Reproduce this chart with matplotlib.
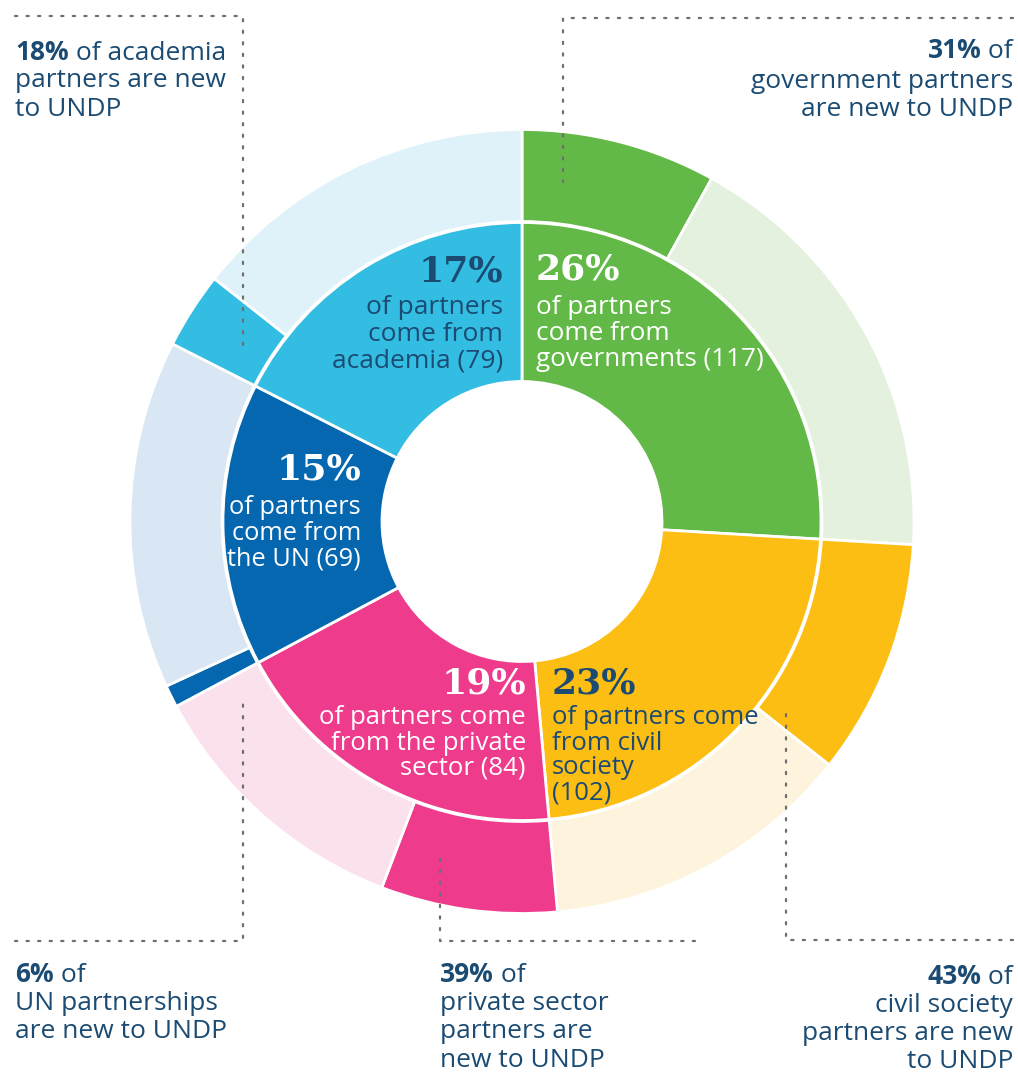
import matplotlib
matplotlib.use('Agg')
import matplotlib.pyplot as plt

W, H = 1018, 1073

# ---- data ----
categories = ['governments', 'civil society', 'private sector', 'the UN', 'academia']
partners = [117, 102, 84, 69, 79]
share_pct = [26, 23, 19, 15, 17]
new_pct = [31, 43, 39, 6, 18]

strong_colors = ['#63B947', '#FDBE14', '#EE3B8C', '#0467AF', '#33BDE2']
light_colors = ['#E3F1DE', '#FEF4DD', '#FBE1ED', '#D8E7F3', '#DFF2FA']
label_colors = ['white', '#1B4B72', 'white', 'white', '#1B4B72']

inner_lines = [
    ['of partners', 'come from', 'governments (117)'],
    ['of partners come', 'from civil', 'society', '(102)'],
    ['of partners come', 'from the private', 'sector (84)'],
    ['of partners', 'come from', 'the UN (69)'],
    ['of partners', 'come from', 'academia (79)'],
]
note_rest = [
    [' of', 'government partners', 'are new to UNDP'],
    [' of', 'civil society', 'partners are new', 'to UNDP'],
    [' of', 'private sector', 'partners are', 'new to UNDP'],
    [' of', 'UN partnerships', 'are new to UNDP'],
    [' of academia', 'partners are new', 'to UNDP'],
]

NAVY = '#1B4B72'
SANS = ['Open Sans', 'DejaVu Sans']
SERIF = ['DejaVu Serif']

fig = plt.figure(figsize=(W / 100, H / 100), dpi=100)
ax = fig.add_axes([0, 0, 1, 1])


def Y(y):
    return H - y


cx, cy = 522, Y(521.5)

# inner ring
ax.pie(partners, radius=299, center=(cx, cy), startangle=90, counterclock=False,
       colors=strong_colors, frame=True,
       wedgeprops=dict(width=159, edgecolor='white', linewidth=2.0))

# outer ring: new (strong) then existing (light) for each category
outer_vals, outer_cols = [], []
for n, p, s, l in zip(partners, new_pct, strong_colors, light_colors):
    outer_vals += [n * p / 100, n * (100 - p) / 100]
    outer_cols += [s, l]
ax.pie(outer_vals, radius=392, center=(cx, cy), startangle=90, counterclock=False,
       colors=outer_cols, frame=True,
       wedgeprops=dict(width=92, edgecolor='white', linewidth=2.0))

ax.set_xlim(0, W)
ax.set_ylim(0, H)
ax.axis('off')

# ---- inner labels ----
# (x, align, pct center y, first line y, line step, font size)
inner_pos = [
    (536, 'left', 270, 308, 25.5, 18.8),
    (552, 'left', 684, 718, 25, 18.5),
    (526, 'right', 684, 718, 25, 18.5),
    (361, 'right', 470, 507, 26, 18.3),
    (503, 'right', 272, 308, 26.5, 19),
]
for i, (x, ha, yp, y0, step, fs) in enumerate(inner_pos):
    ax.text(x, Y(yp), f'{share_pct[i]}%', ha=ha, va='center', fontsize=26,
            fontweight='bold', family=SERIF, color=label_colors[i])
    for j, line in enumerate(inner_lines[i]):
        ax.text(x, Y(y0 + j * step), line, ha=ha, va='center', fontsize=fs,
                family=SANS, color=label_colors[i])

# ---- corner notes ----
# (x, align, first line y, line step)
note_pos = [
    (1013, 'right', 52, 29),   # governments
    (1013, 'right', 977, 28),  # civil society
    (440, 'left', 975, 28.5),  # private sector
    (15, 'left', 975, 28.5),   # UN
    (15, 'left', 52, 28.5),    # academia
]
NFS = 19
for i, (x, ha, y0, step) in enumerate(note_pos):
    rest = note_rest[i]
    pct = f'{new_pct[i]}%'
    if ha == 'left':
        t = ax.text(x, Y(y0), pct, ha='left', va='center', fontsize=NFS,
                    fontweight='bold', family=SANS, color=NAVY)
        ax.annotate(rest[0], xy=(1, 0), xycoords=t, ha='left', va='bottom',
                    fontsize=NFS, family=SANS, color=NAVY)
    else:
        t = ax.text(x, Y(y0), rest[0], ha='right', va='center', fontsize=NFS,
                    family=SANS, color=NAVY)
        ax.annotate(pct, xy=(0, 0), xycoords=t, ha='right', va='bottom',
                    fontsize=NFS, fontweight='bold', family=SANS, color=NAVY)
    for j, line in enumerate(rest[1:]):
        ax.text(x, Y(y0 + (j + 1) * step), line, ha=ha, va='center',
                fontsize=NFS, family=SANS, color=NAVY)

# ---- dotted leader lines ----
dot = dict(color='#6E6E6E', linewidth=1.6, linestyle=(0, (1, 4.2)),
           dash_capstyle='round')
leaders = [
    ([15, 243, 243], [16, 16, 345]),          # academia
    ([1013, 563, 563], [18, 18, 182]),        # governments
    ([15, 243, 243], [941, 941, 700]),        # UN
    ([695, 440, 440], [941, 941, 858]),       # private sector
    ([1013, 786, 786], [940, 940, 712]),      # civil society
]
for xs, ys in leaders:
    ax.plot(xs, [Y(v) for v in ys], **dot)

fig.savefig('out.png', dpi=100, facecolor='white')
